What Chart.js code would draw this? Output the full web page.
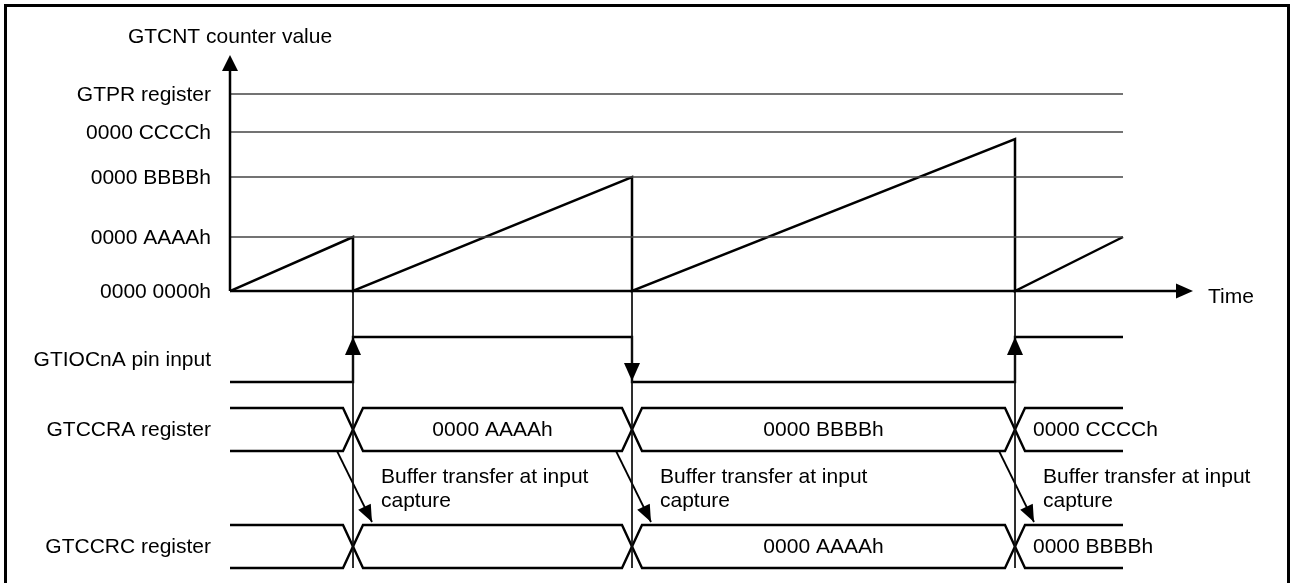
<!DOCTYPE html>
<html>
<head>
<meta charset="utf-8">
<title>GTCNT input capture timing</title>
<script src="https://cdn.jsdelivr.net/npm/chart.js@4"></script>
<style>
  html, body { margin: 0; padding: 0; background: #fff; }
  canvas { display: block; }
</style>
</head>
<body>
<canvas id="timing" width="1290" height="583"></canvas>
<script>
// time axis (diagram units) and counter levels
const captureTimes = [123, 402, 785];
const endTime = 893;
const timeAxisEnd = 963;

const levelLabels = ['0000 0000h', '0000 AAAAh', '0000 BBBBh', '0000 CCCCh', 'GTPR register'];
const levelValues = [0, 54, 114, 159, 197];

const counterPeaks = [54, 114, 152];
const counterLast = 54;

// signal lanes: state / register contents per interval between captures
const pinStates = [0, 1, 0, 1];
const ccraValues = ['', '0000 AAAAh', '0000 BBBBh', '0000 CCCCh'];
const ccrcValues = ['', '', '0000 AAAAh', '0000 BBBBh'];

const laneLabels = ['GTIOCnA pin input', 'GTCCRA register', 'GTCCRC register'];
const noteLines = ['Buffer transfer at input', 'capture'];

// lane placement (y units below the counter zero line)
const PIN_HI = -46, PIN_LO = -91;
const CCRA = [-117, -160];
const CCRC = [-234, -277];
const XW = 10;
const FONT = '21px "Liberation Sans", Arial, sans-serif';

function line(points, width, color) {
  return {
    data: points,
    showLine: true,
    borderColor: color || '#000',
    borderWidth: width,
    pointRadius: 0,
    fill: false,
    tension: 0
  };
}

const datasets = [];

// reference levels
levelValues.slice(1).forEach(v => {
  datasets.push(line([{ x: 0, y: v }, { x: endTime, y: v }], 1.4, '#444'));
});

// counter sawtooth
const saw = [{ x: 0, y: 0 }];
captureTimes.forEach((t, i) => {
  saw.push({ x: t, y: counterPeaks[i] });
  saw.push({ x: t, y: 0 });
});
saw.push({ x: endTime, y: counterLast });
datasets.push(line(saw, 2.5));

// capture markers
captureTimes.forEach(t => {
  datasets.push(line([{ x: t, y: 0 }, { x: t, y: CCRC[1] }], 1, '#111'));
});

// pin input
const pinY = s => s ? PIN_HI : PIN_LO;
const pin = [{ x: 0, y: pinY(pinStates[0]) }];
captureTimes.forEach((t, i) => {
  pin.push({ x: t, y: pinY(pinStates[i]) });
  pin.push({ x: t, y: pinY(pinStates[i + 1]) });
});
pin.push({ x: endTime, y: pinY(pinStates[pinStates.length - 1]) });
datasets.push(line(pin, 2.4));

// register buses
function bus(lane) {
  const a = [{ x: 0, y: lane[0] }];
  const b = [{ x: 0, y: lane[1] }];
  let k = 0;
  captureTimes.forEach(t => {
    a.push({ x: t - XW, y: lane[k] });
    a.push({ x: t + XW, y: lane[1 - k] });
    b.push({ x: t - XW, y: lane[1 - k] });
    b.push({ x: t + XW, y: lane[k] });
    k = 1 - k;
  });
  a.push({ x: endTime, y: a[a.length - 1].y });
  b.push({ x: endTime, y: b[b.length - 1].y });
  datasets.push(line(a, 2.4), line(b, 2.4));
}
bus(CCRA);
bus(CCRC);

// buffer transfer arrows
const transfers = captureTimes.map(t => [{ x: t - 16, y: CCRA[1] }, { x: t + 19, y: CCRC[0] + 3 }]);
transfers.forEach(p => datasets.push(line(p, 1.8)));

function arrowHead(ctx, x0, y0, x1, y1, len, wid) {
  const a = Math.atan2(y1 - y0, x1 - x0);
  const bx = x1 - len * Math.cos(a), by = y1 - len * Math.sin(a);
  ctx.beginPath();
  ctx.moveTo(x1, y1);
  ctx.lineTo(bx + wid / 2 * Math.sin(a), by - wid / 2 * Math.cos(a));
  ctx.lineTo(bx - wid / 2 * Math.sin(a), by + wid / 2 * Math.cos(a));
  ctx.closePath();
  ctx.fill();
}

const decorations = {
  id: 'decorations',
  afterDatasetsDraw(chart) {
    const ctx = chart.ctx;
    const xs = chart.scales.x, ys = chart.scales.y;
    const px = v => xs.getPixelForValue(v);
    const py = v => ys.getPixelForValue(v);
    ctx.save();
    ctx.fillStyle = '#000';
    ctx.strokeStyle = '#000';

    // axes
    ctx.lineWidth = 2.5;
    ctx.beginPath();
    ctx.moveTo(px(0), py(0));
    ctx.lineTo(px(0), ys.top + 12);
    ctx.moveTo(px(0), py(0));
    ctx.lineTo(xs.right - 12, py(0));
    ctx.stroke();
    arrowHead(ctx, px(0), py(0), px(0), ys.top, 16, 16);
    arrowHead(ctx, px(0), py(0), xs.right, py(0), 17, 15);

    // pin edge arrows
    captureTimes.forEach((t, i) => {
      const from = py(pinY(pinStates[i])), to = py(pinY(pinStates[i + 1]));
      arrowHead(ctx, px(t), from, px(t), to + (to < from ? 0 : -1), 18, 16);
    });

    // transfer arrow heads
    transfers.forEach(p => {
      arrowHead(ctx, px(p[0].x), py(p[0].y), px(p[1].x), py(p[1].y), 17, 14);
    });

    ctx.font = FONT;

    // counter labels
    ctx.textAlign = 'center';
    ctx.textBaseline = 'alphabetic';
    ctx.fillText('GTCNT counter value', px(0), 43);
    ctx.textAlign = 'left';
    ctx.fillText('Time', xs.right + 15, py(0) + 12);

    ctx.textAlign = 'right';
    ctx.textBaseline = 'middle';
    levelLabels.forEach((s, i) => ctx.fillText(s, 211, py(levelValues[i]) + 1));

    // lane labels
    const laneMid = [(PIN_HI + PIN_LO) / 2, (CCRA[0] + CCRA[1]) / 2, (CCRC[0] + CCRC[1]) / 2];
    laneLabels.forEach((s, i) => ctx.fillText(s, 211, py(laneMid[i]) + 1));

    // bus contents
    function busText(values, mid) {
      values.forEach((s, i) => {
        if (!s) return;
        const start = captureTimes[i - 1] + XW;
        if (i === values.length - 1) {
          ctx.textAlign = 'left';
          ctx.fillText(s, px(start) + 8, py(mid) + 1);
        } else {
          ctx.textAlign = 'center';
          ctx.fillText(s, (px(start) + px(captureTimes[i] - XW)) / 2, py(mid) + 1);
        }
      });
    }
    busText(ccraValues, laneMid[1]);
    busText(ccrcValues, laneMid[2]);

    // transfer notes
    ctx.textAlign = 'left';
    ctx.textBaseline = 'alphabetic';
    captureTimes.forEach(t => {
      noteLines.forEach((s, j) => ctx.fillText(s, px(t) + 28, py(CCRA[1]) + 32 + j * 24));
    });

    // frame
    ctx.lineWidth = 3;
    ctx.beginPath();
    ctx.moveTo(5.5, chart.height);
    ctx.lineTo(5.5, 5.5);
    ctx.lineTo(1288.5, 5.5);
    ctx.lineTo(1288.5, chart.height);
    ctx.stroke();
    ctx.restore();
  }
};

new Chart(document.getElementById('timing'), {
  type: 'scatter',
  data: { datasets: datasets },
  options: {
    responsive: false,
    animation: false,
    events: [],
    layout: { padding: { left: 230, right: 97, top: 55, bottom: 8 } },
    plugins: { legend: { display: false }, tooltip: { enabled: false } },
    scales: {
      x: { type: 'linear', min: 0, max: timeAxisEnd, display: false },
      y: { type: 'linear', min: -284, max: 236, display: false }
    }
  },
  plugins: [decorations]
});
</script>
</body>
</html>
